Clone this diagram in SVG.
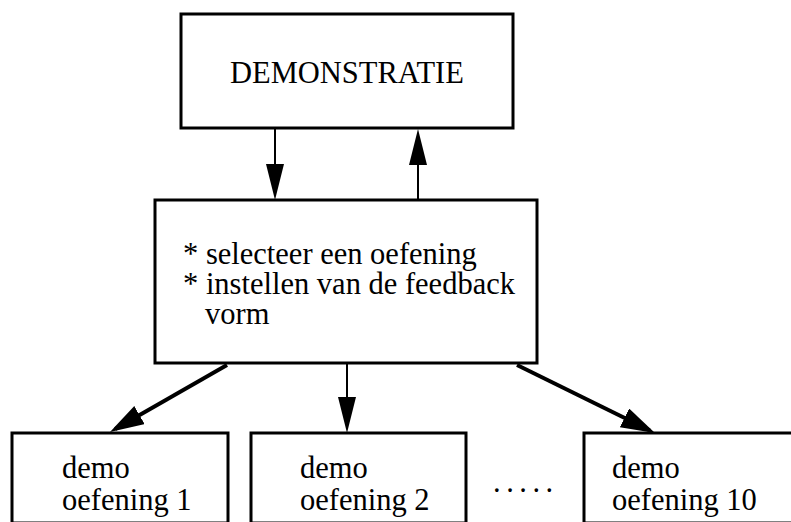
<svg xmlns="http://www.w3.org/2000/svg" width="791" height="522" viewBox="0 0 791 522">
<style>
.box{fill:#fff;stroke:#000;stroke-width:3}
.t{font-family:"Liberation Serif","Times New Roman",serif;font-size:30.5px;fill:#000}
.c{fill:none;stroke:#000}
.thin{stroke-width:2}
.thick{stroke-width:4}
</style>
<defs>
<marker id="ah" markerUnits="userSpaceOnUse" markerWidth="40" markerHeight="20" refX="30" refY="9" orient="auto" viewBox="0 0 40 20">
<path d="M0,0 L36,9 L0,18 z" fill="#000"/>
</marker>
<marker id="ah2" markerUnits="userSpaceOnUse" markerWidth="40" markerHeight="24" refX="28" refY="10.5" orient="auto" viewBox="0 0 40 24">
<path d="M0,0 L34,10.5 L0,21 z" fill="#000"/>
</marker>
</defs>
<rect width="791" height="522" fill="#fff"/>
<g id="connectors">
<line class="c thin" x1="275" y1="129" x2="275" y2="194" marker-end="url(#ah)"/>
<line class="c thin" x1="418" y1="199" x2="418" y2="135" marker-end="url(#ah)"/>
<line class="c thin" x1="347" y1="364" x2="347" y2="427" marker-end="url(#ah)"/>
<line class="c thick" x1="227" y1="365" x2="115.2" y2="429" marker-end="url(#ah2)"/>
<line class="c thick" x1="517" y1="365" x2="649.6" y2="430.3" marker-end="url(#ah2)"/>
</g>
<g id="demonstratie">
<rect class="box" x="181" y="14" width="332" height="114"/>
<text class="t" x="230" y="83">DEMONSTRATIE</text>
</g>
<g id="menu">
<rect class="box" x="155" y="200" width="382" height="163"/>
<text class="t" x="183" y="264">* selecteer een oefening</text>
<text class="t" x="183" y="294">* instellen van de feedback</text>
<text class="t" x="205" y="324">vorm</text>
</g>
<g id="oefening1">
<rect class="box" x="12" y="433" width="216" height="90"/>
<text class="t" x="62" y="478">demo</text>
<text class="t" x="62" y="510">oefening 1</text>
</g>
<g id="oefening2">
<rect class="box" x="251" y="433" width="215" height="90"/>
<text class="t" x="300" y="478">demo</text>
<text class="t" x="300" y="510">oefening 2</text>
</g>
<g id="dots">
<text class="t" x="493" y="492" letter-spacing="5.5">.....</text>
</g>
<g id="oefening10">
<rect class="box" x="584" y="433" width="220" height="90"/>
<text class="t" x="612" y="478">demo</text>
<text class="t" x="612" y="510">oefening 10</text>
</g>
</svg>
